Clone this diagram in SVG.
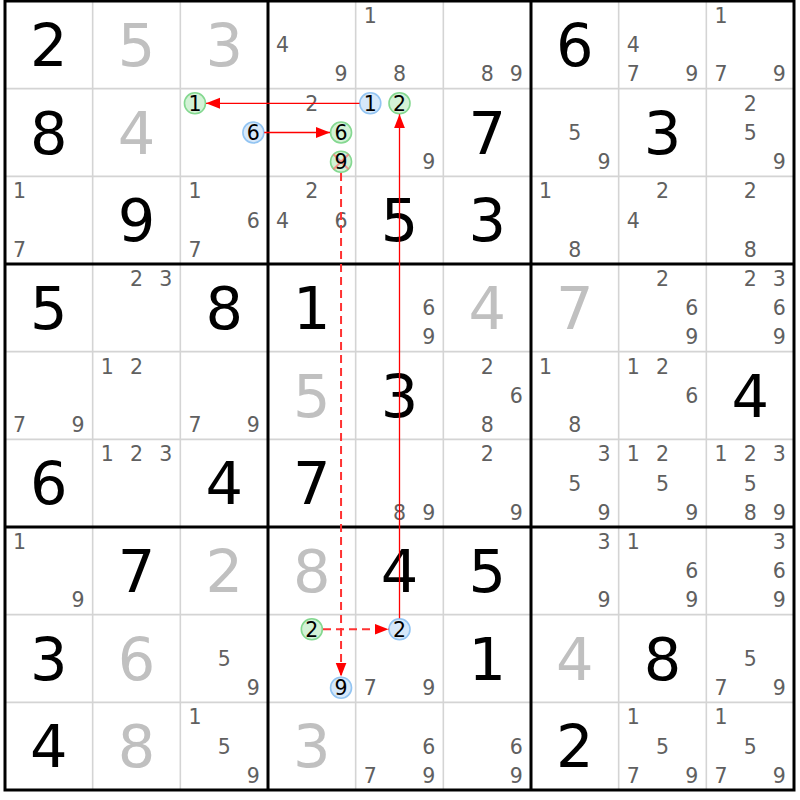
<svg xmlns="http://www.w3.org/2000/svg" width="800" height="800" viewBox="0 0 800 800">
<style>
text{font-family:"DejaVu Sans","Verdana",sans-serif;text-anchor:middle}
.g{font-size:59px;fill:#000}
.s{font-size:59px;fill:#c0c0c0}
.c{font-size:20.5px;fill:#606060}
.h{font-size:20.5px;fill:#000}
.thin{stroke:#d4d4d4;stroke-width:1.6}
.thick{stroke:#000;stroke-width:3}
.cg{fill:#d3f2d6;stroke:#84d890;stroke-width:1.6}
.cb{fill:#d6e8fa;stroke:#92c4f2;stroke-width:1.6}
.lk{stroke:#ff0000;stroke-width:1.3;fill:none;marker-end:url(#ah)}
.wk{stroke:#ff3333;stroke-width:2;fill:none;stroke-dasharray:8,5;marker-end:url(#ah)}
</style>
<defs>
<marker id="ah" markerUnits="userSpaceOnUse" markerWidth="15" markerHeight="12" refX="14" refY="5.5" orient="auto">
<path d="M0,0 L14,5.5 L0,11 z" fill="#ff0000"/>
</marker>
</defs>
<rect x="0" y="0" width="800" height="800" fill="#fff"/>
<g id="grid">
<g class="thin">
<line x1="92.67" y1="1" x2="92.67" y2="790"/>
<line x1="180.33" y1="1" x2="180.33" y2="790"/>
<line x1="355.67" y1="1" x2="355.67" y2="790"/>
<line x1="443.33" y1="1" x2="443.33" y2="790"/>
<line x1="618.67" y1="1" x2="618.67" y2="790"/>
<line x1="706.33" y1="1" x2="706.33" y2="790"/>
<line x1="5" y1="88.67" x2="794" y2="88.67"/>
<line x1="5" y1="176.33" x2="794" y2="176.33"/>
<line x1="5" y1="351.67" x2="794" y2="351.67"/>
<line x1="5" y1="439.33" x2="794" y2="439.33"/>
<line x1="5" y1="614.67" x2="794" y2="614.67"/>
<line x1="5" y1="702.33" x2="794" y2="702.33"/>
</g>
<g class="thick">
<line x1="268" y1="1" x2="268" y2="790"/>
<line x1="531" y1="1" x2="531" y2="790"/>
<line x1="5" y1="264" x2="794" y2="264"/>
<line x1="5" y1="527" x2="794" y2="527"/>
<rect x="5" y="1" width="789" height="789" fill="none"/>
</g>
</g>
<g id="cells">
<g id="r1c1"><text class="g" x="48.83" y="65.8">2</text></g>
<g id="r1c2"><text class="s" x="136.5" y="65.8">5</text></g>
<g id="r1c3"><text class="s" x="224.17" y="65.8">3</text></g>
<g id="r1c4"><text class="c" x="282.61" y="52.1">4</text><text class="c" x="341.05" y="81.4">9</text></g>
<g id="r1c5"><text class="c" x="370.28" y="22.9">1</text><text class="c" x="399.5" y="81.4">8</text></g>
<g id="r1c6"><text class="c" x="487.17" y="81.4">8</text><text class="c" x="516.39" y="81.4">9</text></g>
<g id="r1c7"><text class="g" x="574.83" y="65.8">6</text></g>
<g id="r1c8"><text class="c" x="633.28" y="52.1">4</text><text class="c" x="633.28" y="81.4">7</text><text class="c" x="691.72" y="81.4">9</text></g>
<g id="r1c9"><text class="c" x="720.95" y="22.9">1</text><text class="c" x="720.95" y="81.4">7</text><text class="c" x="779.39" y="81.4">9</text></g>

<g id="r2c1"><text class="g" x="48.83" y="153.5">8</text></g>
<g id="r2c2"><text class="s" x="136.5" y="153.5">4</text></g>
<g id="r2c3"><circle class="cg" cx="194.95" cy="103.28" r="10.5"/><text class="h" x="194.95" y="110.6">1</text><circle class="cb" cx="253.39" cy="132.5" r="10.5"/><text class="h" x="253.39" y="139.8">6</text></g>
<g id="r2c4"><text class="c" x="311.83" y="110.6">2</text><circle class="cg" cx="341.05" cy="132.5" r="10.5"/><text class="h" x="341.05" y="139.8">6</text><circle class="cg" cx="341.05" cy="161.72" r="10.5"/><path d="M333.5,154.2 L348.6,169.2 M348.6,154.2 L333.5,169.2" stroke="#ff7070" stroke-width="2" opacity="0.7"/><text class="h" x="341.05" y="169.0">9</text></g>
<g id="r2c5"><circle class="cb" cx="370.28" cy="103.28" r="10.5"/><text class="h" x="370.28" y="110.6">1</text><circle class="cg" cx="399.5" cy="103.28" r="10.5"/><text class="h" x="399.5" y="110.6">2</text><text class="c" x="428.72" y="169.0">9</text></g>
<g id="r2c6"><text class="g" x="487.17" y="153.5">7</text></g>
<g id="r2c7"><text class="c" x="574.83" y="139.8">5</text><text class="c" x="604.05" y="169.0">9</text></g>
<g id="r2c8"><text class="g" x="662.5" y="153.5">3</text></g>
<g id="r2c9"><text class="c" x="750.17" y="110.6">2</text><text class="c" x="750.17" y="139.8">5</text><text class="c" x="779.39" y="169.0">9</text></g>

<g id="r3c1"><text class="c" x="19.61" y="198.3">1</text><text class="c" x="19.61" y="256.7">7</text></g>
<g id="r3c2"><text class="g" x="136.5" y="241.2">9</text></g>
<g id="r3c3"><text class="c" x="194.95" y="198.3">1</text><text class="c" x="253.39" y="227.5">6</text><text class="c" x="194.95" y="256.7">7</text></g>
<g id="r3c4"><text class="c" x="311.83" y="198.3">2</text><text class="c" x="282.61" y="227.5">4</text><text class="c" x="341.05" y="227.5">6</text></g>
<g id="r3c5"><text class="g" x="399.5" y="241.2">5</text></g>
<g id="r3c6"><text class="g" x="487.17" y="241.2">3</text></g>
<g id="r3c7"><text class="c" x="545.61" y="198.3">1</text><text class="c" x="574.83" y="256.7">8</text></g>
<g id="r3c8"><text class="c" x="662.5" y="198.3">2</text><text class="c" x="633.28" y="227.5">4</text></g>
<g id="r3c9"><text class="c" x="750.17" y="198.3">2</text><text class="c" x="750.17" y="256.7">8</text></g>

<g id="r4c1"><text class="g" x="48.83" y="328.8">5</text></g>
<g id="r4c2"><text class="c" x="136.5" y="285.9">2</text><text class="c" x="165.72" y="285.9">3</text></g>
<g id="r4c3"><text class="g" x="224.17" y="328.8">8</text></g>
<g id="r4c4"><text class="g" x="311.83" y="328.8">1</text></g>
<g id="r4c5"><text class="c" x="428.72" y="315.1">6</text><text class="c" x="428.72" y="344.4">9</text></g>
<g id="r4c6"><text class="s" x="487.17" y="328.8">4</text></g>
<g id="r4c7"><text class="s" x="574.83" y="328.8">7</text></g>
<g id="r4c8"><text class="c" x="662.5" y="285.9">2</text><text class="c" x="691.72" y="315.1">6</text><text class="c" x="691.72" y="344.4">9</text></g>
<g id="r4c9"><text class="c" x="750.17" y="285.9">2</text><text class="c" x="779.39" y="285.9">3</text><text class="c" x="779.39" y="315.1">6</text><text class="c" x="779.39" y="344.4">9</text></g>

<g id="r5c1"><text class="c" x="19.61" y="432.0">7</text><text class="c" x="78.05" y="432.0">9</text></g>
<g id="r5c2"><text class="c" x="107.28" y="373.6">1</text><text class="c" x="136.5" y="373.6">2</text></g>
<g id="r5c3"><text class="c" x="194.95" y="432.0">7</text><text class="c" x="253.39" y="432.0">9</text></g>
<g id="r5c4"><text class="s" x="311.83" y="416.5">5</text></g>
<g id="r5c5"><text class="g" x="399.5" y="416.5">3</text></g>
<g id="r5c6"><text class="c" x="487.17" y="373.6">2</text><text class="c" x="516.39" y="402.8">6</text><text class="c" x="487.17" y="432.0">8</text></g>
<g id="r5c7"><text class="c" x="545.61" y="373.6">1</text><text class="c" x="574.83" y="432.0">8</text></g>
<g id="r5c8"><text class="c" x="633.28" y="373.6">1</text><text class="c" x="662.5" y="373.6">2</text><text class="c" x="691.72" y="402.8">6</text></g>
<g id="r5c9"><text class="g" x="750.17" y="416.5">4</text></g>

<g id="r6c1"><text class="g" x="48.83" y="504.2">6</text></g>
<g id="r6c2"><text class="c" x="107.28" y="461.3">1</text><text class="c" x="136.5" y="461.3">2</text><text class="c" x="165.72" y="461.3">3</text></g>
<g id="r6c3"><text class="g" x="224.17" y="504.2">4</text></g>
<g id="r6c4"><text class="g" x="311.83" y="504.2">7</text></g>
<g id="r6c5"><text class="c" x="399.5" y="519.7">8</text><text class="c" x="428.72" y="519.7">9</text></g>
<g id="r6c6"><text class="c" x="487.17" y="461.3">2</text><text class="c" x="516.39" y="519.7">9</text></g>
<g id="r6c7"><text class="c" x="604.05" y="461.3">3</text><text class="c" x="574.83" y="490.5">5</text><text class="c" x="604.05" y="519.7">9</text></g>
<g id="r6c8"><text class="c" x="633.28" y="461.3">1</text><text class="c" x="662.5" y="461.3">2</text><text class="c" x="662.5" y="490.5">5</text><text class="c" x="691.72" y="519.7">9</text></g>
<g id="r6c9"><text class="c" x="720.95" y="461.3">1</text><text class="c" x="750.17" y="461.3">2</text><text class="c" x="779.39" y="461.3">3</text><text class="c" x="750.17" y="490.5">5</text><text class="c" x="750.17" y="519.7">8</text><text class="c" x="779.39" y="519.7">9</text></g>

<g id="r7c1"><text class="c" x="19.61" y="548.9">1</text><text class="c" x="78.05" y="607.4">9</text></g>
<g id="r7c2"><text class="g" x="136.5" y="591.8">7</text></g>
<g id="r7c3"><text class="s" x="224.17" y="591.8">2</text></g>
<g id="r7c4"><text class="s" x="311.83" y="591.8">8</text></g>
<g id="r7c5"><text class="g" x="399.5" y="591.8">4</text></g>
<g id="r7c6"><text class="g" x="487.17" y="591.8">5</text></g>
<g id="r7c7"><text class="c" x="604.05" y="548.9">3</text><text class="c" x="604.05" y="607.4">9</text></g>
<g id="r7c8"><text class="c" x="633.28" y="548.9">1</text><text class="c" x="691.72" y="578.1">6</text><text class="c" x="691.72" y="607.4">9</text></g>
<g id="r7c9"><text class="c" x="779.39" y="548.9">3</text><text class="c" x="779.39" y="578.1">6</text><text class="c" x="779.39" y="607.4">9</text></g>

<g id="r8c1"><text class="g" x="48.83" y="679.5">3</text></g>
<g id="r8c2"><text class="s" x="136.5" y="679.5">6</text></g>
<g id="r8c3"><text class="c" x="224.17" y="665.8">5</text><text class="c" x="253.39" y="695.0">9</text></g>
<g id="r8c4"><circle class="cg" cx="311.83" cy="629.28" r="10.5"/><text class="h" x="311.83" y="636.6">2</text><circle class="cb" cx="341.05" cy="687.72" r="10.5"/><text class="h" x="341.05" y="695.0">9</text></g>
<g id="r8c5"><circle class="cb" cx="399.5" cy="629.28" r="10.5"/><text class="h" x="399.5" y="636.6">2</text><text class="c" x="370.28" y="695.0">7</text><text class="c" x="428.72" y="695.0">9</text></g>
<g id="r8c6"><text class="g" x="487.17" y="679.5">1</text></g>
<g id="r8c7"><text class="s" x="574.83" y="679.5">4</text></g>
<g id="r8c8"><text class="g" x="662.5" y="679.5">8</text></g>
<g id="r8c9"><text class="c" x="750.17" y="665.8">5</text><text class="c" x="720.95" y="695.0">7</text><text class="c" x="779.39" y="695.0">9</text></g>

<g id="r9c1"><text class="g" x="48.83" y="767.2">4</text></g>
<g id="r9c2"><text class="s" x="136.5" y="767.2">8</text></g>
<g id="r9c3"><text class="c" x="194.95" y="724.3">1</text><text class="c" x="224.17" y="753.5">5</text><text class="c" x="253.39" y="782.7">9</text></g>
<g id="r9c4"><text class="s" x="311.83" y="767.2">3</text></g>
<g id="r9c5"><text class="c" x="428.72" y="753.5">6</text><text class="c" x="370.28" y="782.7">7</text><text class="c" x="428.72" y="782.7">9</text></g>
<g id="r9c6"><text class="c" x="516.39" y="753.5">6</text><text class="c" x="516.39" y="782.7">9</text></g>
<g id="r9c7"><text class="g" x="574.83" y="767.2">2</text></g>
<g id="r9c8"><text class="c" x="633.28" y="724.3">1</text><text class="c" x="662.5" y="753.5">5</text><text class="c" x="633.28" y="782.7">7</text><text class="c" x="691.72" y="782.7">9</text></g>
<g id="r9c9"><text class="c" x="720.95" y="724.3">1</text><text class="c" x="750.17" y="753.5">5</text><text class="c" x="720.95" y="782.7">7</text><text class="c" x="779.39" y="782.7">9</text></g>
</g>
<g id="connectors">
<line class="lk" x1="359.5" y1="103.28" x2="206" y2="103.28"/>
<line class="lk" x1="264.2" y1="132.5" x2="330" y2="132.5"/>
<line class="lk" x1="399.5" y1="618.3" x2="399.5" y2="114.3"/>
<line class="wk" x1="341.05" y1="173" x2="341.05" y2="676.5"/>
<line class="wk" x1="323" y1="629.28" x2="388.5" y2="629.28"/>
</g>
</svg>
